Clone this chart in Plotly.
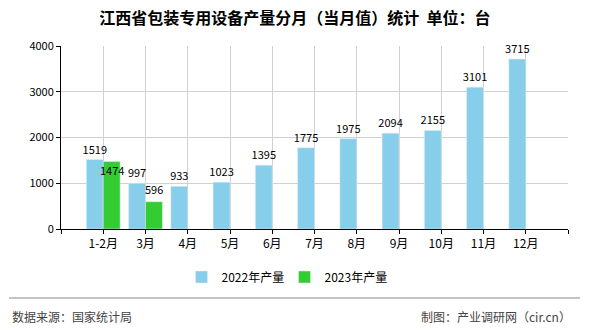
import plotly.graph_objects as go

categories = ["1-2月", "3月", "4月", "5月", "6月", "7月", "8月", "9月", "10月", "11月", "12月"]
values_2022 = [1519, 997, 933, 1023, 1395, 1775, 1975, 2094, 2155, 3101, 3715]
values_2023 = [1474, 596, None, None, None, None, None, None, None, None, None]
label_shift_2023 = [-8, 13, 0, 0, 0, 0, 0, 0, 0, 0, 0]
y_ticks = [0, 1000, 2000, 3000, 4000]

FONT = "Noto Sans CJK SC"
xs = list(range(len(categories)))

fig = go.Figure()
fig.add_trace(go.Bar(
    x=xs, y=values_2022, name="2022年产量", marker_color="#87CEEB",
    text=[str(v) for v in values_2022], textposition="outside", constraintext="none",
    textfont=dict(size=11, color="#000", family=FONT), cliponaxis=False,
))
fig.add_trace(go.Bar(
    x=xs, y=values_2023, name="2023年产量", marker_color="#33CC33",
    cliponaxis=False,
))

for i, v in enumerate(values_2023):
    if v is None:
        continue
    fig.add_annotation(x=i + 0.2, y=v, text=str(v), showarrow=False,
                       xanchor="center", yanchor="middle", yshift=label_shift_2023[i],
                       font=dict(size=11, color="#000", family=FONT))

fig.update_layout(
    width=590, height=330,
    margin=dict(l=61, r=22, t=46, b=101),
    paper_bgcolor="white", plot_bgcolor="white",
    barmode="group", bargap=0.2, bargroupgap=0,
    font=dict(family=FONT, size=11, color="#000"),
    title=dict(text="<b>江西省包装专用设备产量分月（当月值）统计  单位：台</b>",
               x=0.5, xanchor="center", y=1 - 18 / 330, yanchor="middle",
               font=dict(size=16, color="#000", family=FONT)),
    showlegend=True,
    legend=dict(orientation="h", x=0.5 - 30 / 507, xanchor="center", y=-48 / 183, yanchor="middle",
                font=dict(size=12, color="#000", family=FONT),
                itemwidth=30, tracegroupgap=0, entrywidth=58),
    xaxis=dict(
        range=[-1, 11], tickmode="array",
        tickvals=list(range(-1, 12)),
        ticktext=[""] + categories + [""],
        showgrid=True, gridcolor="#d0d0d0", gridwidth=1,
        showline=True, linecolor="#000", linewidth=1,
        ticks="outside", ticklen=4, tickcolor="#000",
        tickfont=dict(size=12, color="#000", family=FONT),
        zeroline=False,
    ),
    yaxis=dict(
        range=[0, 4000], tickvals=y_ticks,
        showgrid=True, gridcolor="#d0d0d0", gridwidth=1,
        showline=True, linecolor="#000", linewidth=1,
        ticks="outside", ticklen=4, tickcolor="#000",
        tickfont=dict(size=11, color="#000", family=FONT),
        zeroline=False,
    ),
)

fig.add_shape(type="line", xref="paper", yref="paper", x0=-52 / 507, x1=519 / 507,
              y0=-69 / 183, y1=-69 / 183, line=dict(color="#888", width=1))
fig.add_annotation(text="数据来源：国家统计局", xref="paper", yref="paper",
                   x=-51 / 507, y=-87 / 183, xanchor="left", yanchor="middle",
                   showarrow=False, font=dict(size=12, color="#444", family=FONT))
fig.add_annotation(text="制图：产业调研网（cir.cn）", xref="paper", yref="paper",
                   x=512 / 507, y=-87 / 183, xanchor="right", yanchor="middle",
                   showarrow=False, font=dict(size=12, color="#444", family=FONT))

fig.write_html("out.html")
